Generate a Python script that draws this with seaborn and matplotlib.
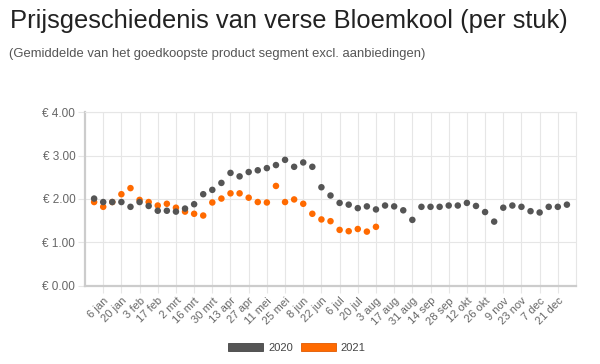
import numpy as np
import pandas as pd
import seaborn as sns
import matplotlib.pyplot as plt
from matplotlib.patches import Patch

# Data (weekly average price, euro per piece)
price_2020 = [2.01, 1.93, 1.93, 1.93, 1.82, 1.93, 1.84, 1.73, 1.73, 1.71,
              1.78, 1.88, 2.11, 2.21, 2.37, 2.60, 2.52, 2.62, 2.66, 2.71,
              2.78, 2.90, 2.74, 2.84, 2.74, 2.27, 2.08, 1.91, 1.87, 1.79,
              1.83, 1.76, 1.85, 1.83, 1.74, 1.52, 1.82, 1.82, 1.82, 1.85,
              1.85, 1.91, 1.84, 1.70, 1.48, 1.80, 1.85, 1.82, 1.72, 1.69,
              1.82, 1.82, 1.87]
price_2021 = [1.93, 1.82, 1.93, 2.11, 2.25, 1.98, 1.93, 1.85, 1.89, 1.80,
              1.71, 1.66, 1.62, 1.92, 2.01, 2.13, 2.13, 2.03, 1.93, 1.92,
              2.30, 1.93, 1.99, 1.89, 1.66, 1.53, 1.49, 1.29, 1.26, 1.31,
              1.25, 1.36]
tick_labels = ['6 jan', '20 jan', '3 feb', '17 feb', '2 mrt', '16 mrt', '30 mrt',
               '13 apr', '27 apr', '11 mei', '25 mei', '8 jun', '22 jun', '6 jul',
               '20 jul', '3 aug', '17 aug', '31 aug', '14 sep', '28 sep', '12 okt',
               '26 okt', '9 nov', '23 nov', '7 dec', '21 dec']
colors = {'2020': '#555555', '2021': '#ff6a00'}

# 2021 first so the 2020 dots are drawn on top
df = pd.concat([
    pd.DataFrame({'week': range(len(price_2021)), 'price': price_2021, 'year': '2021'}),
    pd.DataFrame({'week': range(len(price_2020)), 'price': price_2020, 'year': '2020'}),
])

plt.rcParams['font.family'] = ['Liberation Sans', 'DejaVu Sans']
fig = plt.figure(figsize=(6, 3.64), dpi=100)
ax = fig.add_axes([0.1417, 0.2143, 0.8183, 0.478])

sns.scatterplot(data=df, x='week', y='price', hue='year', palette=colors,
                s=22, linewidth=0, legend=False, ax=ax, zorder=3)

ax.set_xlim(-1, 53)
ax.set_ylim(0, 4)
ax.set_yticks([0, 1, 2, 3, 4])
ax.set_yticklabels([f'€ {v:.2f}' for v in [0, 1, 2, 3, 4]], color='#666666', fontsize=8.5)
ax.set_xticks(np.arange(1, 52, 2))
ax.set_xticklabels(tick_labels, rotation=45, ha='right', rotation_mode='anchor',
                   color='#666666', fontsize=8)
ax.set_xlabel('')
ax.set_ylabel('')

ax.grid(True, color='#e6e6e6', linewidth=0.8, zorder=0)
ax.tick_params(axis='both', length=5, color='#e6e6e6', pad=2)
for side in ['top', 'right']:
    ax.spines[side].set_color('#e6e6e6')
    ax.spines[side].set_linewidth(0.8)
for side in ['left', 'bottom']:
    ax.spines[side].set_color('#cccccc')
    ax.spines[side].set_linewidth(1.6)

fig.text(0.017, 0.923, 'Prijsgeschiedenis van verse Bloemkool (per stuk)',
         fontsize=18.4, color='#222222', va='baseline')
fig.text(0.015, 0.843, '(Gemiddelde van het goedkoopste product segment excl. aanbiedingen)',
         fontsize=9.4, color='#555555', va='baseline')

handles = [Patch(facecolor=colors[y], edgecolor='#444444' if y == '2020' else '#e05a00',
                 linewidth=0.6, label=y) for y in ['2020', '2021']]
fig.legend(handles=handles, loc='center', bbox_to_anchor=(0.495, 0.045), ncol=2,
           frameon=False, fontsize=8, handlelength=3.15, handleheight=0.8,
           handletextpad=0.45, columnspacing=0.7, labelcolor='#444444')

fig.savefig('out.png', dpi=100)
